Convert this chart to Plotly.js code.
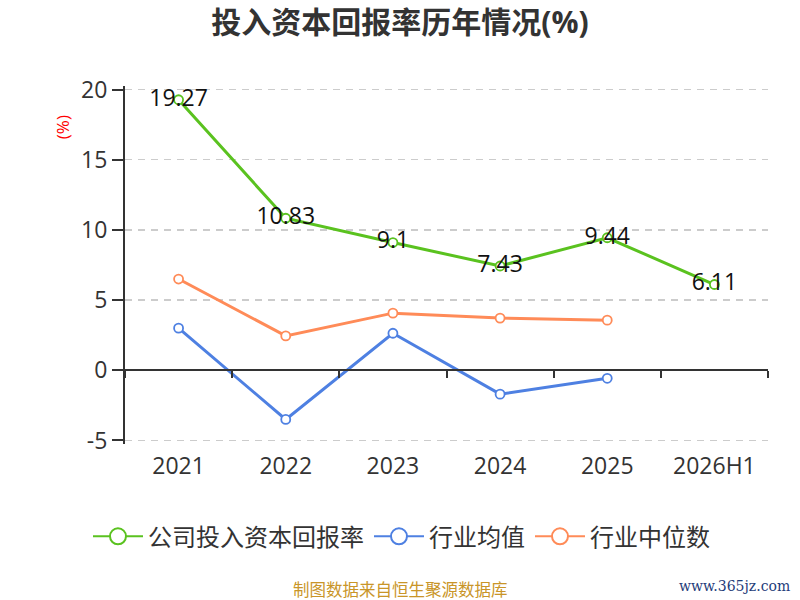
<!DOCTYPE html>
<html>
<head>
<meta charset="utf-8">
<script src="https://cdn.plot.ly/plotly-3.0.1.min.js"></script>
<style>html,body{margin:0;padding:0;background:#fff;}#chart{width:800px;height:600px;}</style>
</head>
<body>
<div id="chart"></div>
<script>
var categories = ["2021", "2022", "2023", "2024", "2025", "2026H1"];
var companyROIC = [19.27, 10.83, 9.1, 7.43, 9.44, 6.11];
var industryMean = [3.0, -3.5, 2.64, -1.7, -0.57];
var industryMedian = [6.5, 2.45, 4.07, 3.72, 3.57];
var seriesNames = ["公司投入资本回报率", "行业均值", "行业中位数"];
var yTicks = [-5, 0, 5, 10, 15, 20];
var yTickText = ["-5", "0", "5", "10", "15", "20"];

var FONT = "'Open Sans', 'Noto Sans CJK SC', sans-serif";
var colors = ["#5ac21f", "#4e80e2", "#ff8b58"];
var Y_MIN = -5.25, Y_MAX = 20.25;

function lineTrace(name, yvals, color, withText) {
  var t = {
    type: "scatter",
    mode: withText ? "lines+markers+text" : "lines+markers",
    name: name,
    showlegend: false,
    x: categories.slice(0, yvals.length),
    y: yvals,
    line: {color: color, width: 3},
    marker: {symbol: "circle", size: 9, color: "#ffffff", line: {color: color, width: 1.8}},
    cliponaxis: false,
    hoverinfo: "x+y"
  };
  if (withText) {
    t.text = yvals.map(function(v){ return String(v); });
    t.textposition = "middle center";
    t.textfont = {family: FONT, size: 23, color: "#111111"};
  }
  return t;
}

function legendTrace(name, color) {
  return {
    type: "scatter", mode: "lines+markers", name: name,
    x: [null], y: [null], showlegend: true,
    line: {color: color, width: 2},
    marker: {symbol: "circle", size: 16, color: "#ffffff", line: {color: color, width: 2}},
    hoverinfo: "skip"
  };
}

var axisTrace = {
  type: "scatter", mode: "lines", x: categories, y: categories.map(function(){ return null; }),
  xaxis: "x2", yaxis: "y", showlegend: false, hoverinfo: "skip"
};

var traces = [
  lineTrace(seriesNames[0], companyROIC, colors[0], true),
  lineTrace(seriesNames[1], industryMean, colors[1], false),
  lineTrace(seriesNames[2], industryMedian, colors[2], false),
  legendTrace(seriesNames[0], colors[0]),
  legendTrace(seriesNames[1], colors[1]),
  legendTrace(seriesNames[2], colors[2]),
  axisTrace
];

var layout = {
  width: 800, height: 600,
  paper_bgcolor: "#ffffff", plot_bgcolor: "#ffffff",
  margin: {l: 125, r: 32, t: 86, b: 156},
  font: {family: FONT, color: "#333333"},
  title: {
    text: "<b>投入资本回报率历年情况(%)</b>",
    font: {family: FONT, size: 30, color: "#333333"},
    x: 0.5, xanchor: "center", y: 0.963, yanchor: "middle"
  },
  showlegend: true,
  legend: {
    orientation: "h", x: 0.43, xanchor: "center", y: -0.259, yanchor: "middle",
    font: {family: FONT, size: 24, color: "#333333"},
    itemwidth: 50, traceorder: "normal"
  },
  xaxis: {
    type: "category",
    categoryorder: "array", categoryarray: categories,
    range: [-0.5, 5.5],
    showline: false, showgrid: false, zeroline: false,
    ticks: "", ticklen: 0, ticklabelstandoff: 6,
    tickfont: {family: FONT, size: 23, color: "#333333"},
    fixedrange: true
  },
  xaxis2: {
    type: "category",
    categoryorder: "array", categoryarray: categories,
    overlaying: "x",
    anchor: "free", position: (0 - Y_MIN) / (Y_MAX - Y_MIN), side: "bottom",
    range: [-0.5, 5.5],
    tickson: "boundaries",
    ticks: "outside", ticklen: 7, tickwidth: 2, tickcolor: "#333333",
    showticklabels: false,
    showline: true, linecolor: "#333333", linewidth: 2,
    showgrid: false, zeroline: false
  },
  yaxis: {
    range: [Y_MIN, Y_MAX],
    tickvals: yTicks, ticktext: yTickText,
    ticks: "outside", ticklen: 11, tickwidth: 2, tickcolor: "#333333",
    showline: true, linecolor: "#333333", linewidth: 2,
    showgrid: true, gridcolor: "#cccccc", gridwidth: 1.5, griddash: "7px,6px",
    zeroline: false,
    tickfont: {family: FONT, size: 23, color: "#333333"},
    fixedrange: true
  },
  annotations: [
    {text: "(%)", textangle: -90, xref: "paper", yref: "paper",
     x: -0.098, y: 0.885, xanchor: "center", yanchor: "middle", showarrow: false,
     font: {family: FONT, size: 17, color: "#ff0000"}},
    {text: "制图数据来自恒生聚源数据库", xref: "paper", yref: "paper",
     x: 0.429, y: -0.405, xanchor: "center", yanchor: "middle", showarrow: false,
     font: {family: "'Noto Sans CJK SC', sans-serif", size: 16.5, color: "#c99528"}},
    {text: "www.365jz.com", xref: "paper", yref: "paper",
     x: 1.037, y: -0.397, xanchor: "right", yanchor: "middle", showarrow: false,
     font: {family: "'DejaVu Serif', 'Liberation Serif', serif", size: 14, color: "#1f3d7a"}}
  ]
};

Plotly.newPlot("chart", traces, layout, {displayModeBar: false, staticPlot: true});
</script>
</body>
</html>
